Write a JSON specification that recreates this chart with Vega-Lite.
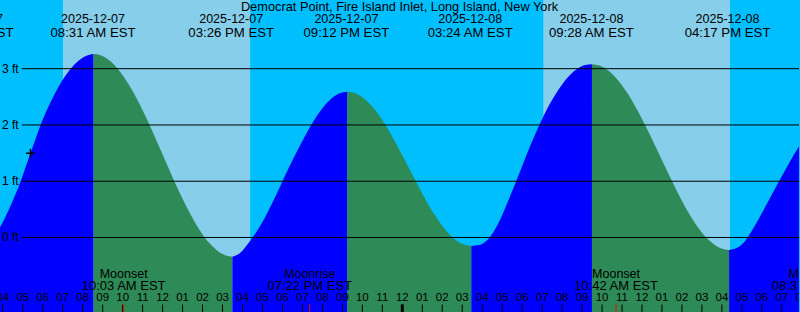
{
  "$schema": "https://vega.github.io/schema/vega-lite/v6.json",
  "width": 800,
  "height": 312,
  "autosize": {"type": "fit", "contains": "padding"},
  "padding": 0,
  "background": "#00BFFF",
  "config": {"view": {"stroke": null}, "text": {"font": "Liberation Sans", "color": "#000000"}},
  "datasets": {
    "bands": [
      {"s": 3.7, "e": 7.01, "k": "night"},
      {"s": 7.01, "e": 16.395, "k": "day"},
      {"s": 16.395, "e": 31.06, "k": "night"},
      {"s": 31.06, "e": 40.41, "k": "day"},
      {"s": 40.41, "e": 44.0, "k": "night"}
    ],
    "tide": [
      {"t": 3.36, "h": -0.09, "seg": "A", "dir": "rise"},
      {"t": 3.86, "h": 0.18, "seg": "A", "dir": "rise"},
      {"t": 4.36, "h": 0.54, "seg": "A", "dir": "rise"},
      {"t": 4.86, "h": 0.97, "seg": "A", "dir": "rise"},
      {"t": 5.36, "h": 1.47, "seg": "A", "dir": "rise"},
      {"t": 5.86, "h": 1.97, "seg": "A", "dir": "rise"},
      {"t": 6.36, "h": 2.38, "seg": "A", "dir": "rise"},
      {"t": 6.86, "h": 2.72, "seg": "A", "dir": "rise"},
      {"t": 7.36, "h": 2.98, "seg": "A", "dir": "rise"},
      {"t": 7.76, "h": 3.13, "seg": "A", "dir": "rise"},
      {"t": 8.16, "h": 3.225, "seg": "A", "dir": "rise"},
      {"t": 8.545, "h": 3.26, "seg": "A", "dir": "rise"},
      {"t": 8.545, "h": 3.26, "seg": "B", "dir": "fall"},
      {"t": 8.86, "h": 3.242, "seg": "B", "dir": "fall"},
      {"t": 9.36, "h": 3.139, "seg": "B", "dir": "fall"},
      {"t": 9.86, "h": 2.951, "seg": "B", "dir": "fall"},
      {"t": 10.36, "h": 2.687, "seg": "B", "dir": "fall"},
      {"t": 10.86, "h": 2.362, "seg": "B", "dir": "fall"},
      {"t": 11.36, "h": 1.99, "seg": "B", "dir": "fall"},
      {"t": 11.86, "h": 1.59, "seg": "B", "dir": "fall"},
      {"t": 12.36, "h": 1.184, "seg": "B", "dir": "fall"},
      {"t": 12.86, "h": 0.793, "seg": "B", "dir": "fall"},
      {"t": 13.36, "h": 0.435, "seg": "B", "dir": "fall"},
      {"t": 13.86, "h": 0.129, "seg": "B", "dir": "fall"},
      {"t": 14.36, "h": -0.108, "seg": "B", "dir": "fall"},
      {"t": 14.76, "h": -0.241, "seg": "B", "dir": "fall"},
      {"t": 15.16, "h": -0.319, "seg": "B", "dir": "fall"},
      {"t": 15.495, "h": -0.34, "seg": "B", "dir": "fall"},
      {"t": 15.495, "h": -0.34, "seg": "C", "dir": "rise"},
      {"t": 15.86, "h": -0.28, "seg": "C", "dir": "rise"},
      {"t": 16.36, "h": -0.07, "seg": "C", "dir": "rise"},
      {"t": 16.86, "h": 0.19, "seg": "C", "dir": "rise"},
      {"t": 17.36, "h": 0.52, "seg": "C", "dir": "rise"},
      {"t": 17.86, "h": 0.89, "seg": "C", "dir": "rise"},
      {"t": 18.36, "h": 1.27, "seg": "C", "dir": "rise"},
      {"t": 18.86, "h": 1.62, "seg": "C", "dir": "rise"},
      {"t": 19.36, "h": 1.95, "seg": "C", "dir": "rise"},
      {"t": 19.86, "h": 2.23, "seg": "C", "dir": "rise"},
      {"t": 20.36, "h": 2.44, "seg": "C", "dir": "rise"},
      {"t": 20.86, "h": 2.563, "seg": "C", "dir": "rise"},
      {"t": 21.245, "h": 2.59, "seg": "C", "dir": "rise"},
      {"t": 21.245, "h": 2.59, "seg": "D", "dir": "fall"},
      {"t": 21.61, "h": 2.567, "seg": "D", "dir": "fall"},
      {"t": 22.11, "h": 2.461, "seg": "D", "dir": "fall"},
      {"t": 22.61, "h": 2.277, "seg": "D", "dir": "fall"},
      {"t": 23.11, "h": 2.026, "seg": "D", "dir": "fall"},
      {"t": 23.61, "h": 1.721, "seg": "D", "dir": "fall"},
      {"t": 24.11, "h": 1.387, "seg": "D", "dir": "fall"},
      {"t": 24.61, "h": 1.042, "seg": "D", "dir": "fall"},
      {"t": 25.11, "h": 0.708, "seg": "D", "dir": "fall"},
      {"t": 25.61, "h": 0.407, "seg": "D", "dir": "fall"},
      {"t": 26.11, "h": 0.156, "seg": "D", "dir": "fall"},
      {"t": 26.61, "h": -0.026, "seg": "D", "dir": "fall"},
      {"t": 27.06, "h": -0.122, "seg": "D", "dir": "fall"},
      {"t": 27.46, "h": -0.15, "seg": "D", "dir": "fall"},
      {"t": 27.46, "h": -0.15, "seg": "E", "dir": "rise"},
      {"t": 27.86, "h": -0.135, "seg": "E", "dir": "rise"},
      {"t": 28.36, "h": -0.006, "seg": "E", "dir": "rise"},
      {"t": 28.86, "h": 0.29, "seg": "E", "dir": "rise"},
      {"t": 29.36, "h": 0.7, "seg": "E", "dir": "rise"},
      {"t": 29.86, "h": 1.14, "seg": "E", "dir": "rise"},
      {"t": 30.36, "h": 1.59, "seg": "E", "dir": "rise"},
      {"t": 30.86, "h": 2.0, "seg": "E", "dir": "rise"},
      {"t": 31.36, "h": 2.36, "seg": "E", "dir": "rise"},
      {"t": 31.86, "h": 2.65, "seg": "E", "dir": "rise"},
      {"t": 32.36, "h": 2.875, "seg": "E", "dir": "rise"},
      {"t": 32.76, "h": 2.998, "seg": "E", "dir": "rise"},
      {"t": 33.16, "h": 3.065, "seg": "E", "dir": "rise"},
      {"t": 33.495, "h": 3.08, "seg": "E", "dir": "rise"},
      {"t": 33.495, "h": 3.08, "seg": "F", "dir": "fall"},
      {"t": 33.86, "h": 3.057, "seg": "F", "dir": "fall"},
      {"t": 34.36, "h": 2.953, "seg": "F", "dir": "fall"},
      {"t": 34.86, "h": 2.768, "seg": "F", "dir": "fall"},
      {"t": 35.36, "h": 2.515, "seg": "F", "dir": "fall"},
      {"t": 35.86, "h": 2.204, "seg": "F", "dir": "fall"},
      {"t": 36.36, "h": 1.854, "seg": "F", "dir": "fall"},
      {"t": 36.86, "h": 1.481, "seg": "F", "dir": "fall"},
      {"t": 37.36, "h": 1.106, "seg": "F", "dir": "fall"},
      {"t": 37.86, "h": 0.747, "seg": "F", "dir": "fall"},
      {"t": 38.36, "h": 0.423, "seg": "F", "dir": "fall"},
      {"t": 38.86, "h": 0.153, "seg": "F", "dir": "fall"},
      {"t": 39.36, "h": -0.05, "seg": "F", "dir": "fall"},
      {"t": 39.76, "h": -0.158, "seg": "F", "dir": "fall"},
      {"t": 40.11, "h": -0.209, "seg": "F", "dir": "fall"},
      {"t": 40.36, "h": -0.22, "seg": "F", "dir": "fall"},
      {"t": 40.36, "h": -0.22, "seg": "G", "dir": "rise"},
      {"t": 40.61, "h": -0.205, "seg": "G", "dir": "rise"},
      {"t": 40.86, "h": -0.165, "seg": "G", "dir": "rise"},
      {"t": 41.11, "h": -0.085, "seg": "G", "dir": "rise"},
      {"t": 41.36, "h": 0.04, "seg": "G", "dir": "rise"},
      {"t": 41.86, "h": 0.34, "seg": "G", "dir": "rise"},
      {"t": 42.36, "h": 0.67, "seg": "G", "dir": "rise"},
      {"t": 42.86, "h": 1.0, "seg": "G", "dir": "rise"},
      {"t": 43.36, "h": 1.32, "seg": "G", "dir": "rise"},
      {"t": 43.86, "h": 1.62, "seg": "G", "dir": "rise"},
      {"t": 44.11, "h": 1.77, "seg": "G", "dir": "rise"}
    ],
    "grid": [
      {"v": 0, "lab": "0 ft"},
      {"v": 1, "lab": "1 ft"},
      {"v": 2, "lab": "2 ft"},
      {"v": 3, "lab": "3 ft"}
    ],
    "hours": [
      {"t": 4, "lab": "04"}, {"t": 5, "lab": "05"}, {"t": 6, "lab": "06"}, {"t": 7, "lab": "07"},
      {"t": 8, "lab": "08"}, {"t": 9, "lab": "09"}, {"t": 10, "lab": "10"}, {"t": 11, "lab": "11"},
      {"t": 12, "lab": "12"}, {"t": 13, "lab": "01"}, {"t": 14, "lab": "02"}, {"t": 15, "lab": "03"},
      {"t": 16, "lab": "04"}, {"t": 17, "lab": "05"}, {"t": 18, "lab": "06"}, {"t": 19, "lab": "07"},
      {"t": 20, "lab": "08"}, {"t": 21, "lab": "09"}, {"t": 22, "lab": "10"}, {"t": 23, "lab": "11"},
      {"t": 24, "lab": "12"}, {"t": 25, "lab": "01"}, {"t": 26, "lab": "02"}, {"t": 27, "lab": "03"},
      {"t": 28, "lab": "04"}, {"t": 29, "lab": "05"}, {"t": 30, "lab": "06"}, {"t": 31, "lab": "07"},
      {"t": 32, "lab": "08"}, {"t": 33, "lab": "09"}, {"t": 34, "lab": "10"}, {"t": 35, "lab": "11"},
      {"t": 36, "lab": "12"}, {"t": 37, "lab": "01"}, {"t": 38, "lab": "02"}, {"t": 39, "lab": "03"},
      {"t": 40, "lab": "04"}, {"t": 41, "lab": "05"}, {"t": 42, "lab": "06"}, {"t": 43, "lab": "07"},
      {"t": 44, "lab": "08"}
    ],
    "moon": [
      {"t": 10.05, "name": "Moonset", "time": "10:03 AM EST"},
      {"t": 19.367, "name": "Moonrise", "time": "07:22 PM EST"},
      {"t": 34.7, "name": "Moonset", "time": "10:42 AM EST"},
      {"t": 44.617, "name": "Moonrise", "time": "08:37 PM EST"}
    ],
    "events": [
      {"t": 2.41, "date": "2025-12-07", "time": "02:25 AM EST"},
      {"t": 8.517, "date": "2025-12-07", "time": "08:31 AM EST"},
      {"t": 15.433, "date": "2025-12-07", "time": "03:26 PM EST"},
      {"t": 21.2, "date": "2025-12-07", "time": "09:12 PM EST"},
      {"t": 27.4, "date": "2025-12-08", "time": "03:24 AM EST"},
      {"t": 33.467, "date": "2025-12-08", "time": "09:28 AM EST"},
      {"t": 40.283, "date": "2025-12-08", "time": "04:17 PM EST"}
    ],
    "now": [{"t": 5.385, "h": 1.496}],
    "title": [{"t": 23.86, "h": 4.03, "text": "Democrat Point, Fire Island Inlet, Long Island, New York"}]
  },
  "resolve": {"scale": {"color": "independent"}},
  "layer": [
    {
      "data": {"name": "bands"},
      "mark": {"type": "rect", "clip": true},
      "encoding": {
        "x": {"field": "s", "type": "quantitative", "scale": {"domain": [3.86, 43.86], "nice": false, "zero": false}, "axis": null},
        "x2": {"field": "e"},
        "y": {"datum": 4.2207, "type": "quantitative", "scale": {"domain": [-1.324, 4.2207], "nice": false, "zero": false}, "axis": null},
        "y2": {"datum": -1.324},
        "color": {"field": "k", "type": "nominal", "scale": {"domain": ["night", "day"], "range": ["#00BFFF", "#87CEEB"]}, "legend": null}
      }
    },
    {
      "data": {"name": "tide"},
      "mark": {"type": "area", "interpolate": "monotone", "clip": true},
      "encoding": {
        "x": {"field": "t", "type": "quantitative"},
        "y": {"field": "h", "type": "quantitative", "stack": null},
        "y2": {"datum": -1.5},
        "color": {"field": "dir", "type": "nominal", "scale": {"domain": ["rise", "fall"], "range": ["#0000FF", "#2E8B57"]}, "legend": null},
        "detail": {"field": "seg"}
      }
    },
    {
      "data": {"name": "grid"},
      "mark": {"type": "rule", "color": "#000000", "strokeWidth": 1},
      "encoding": {
        "x": {"datum": 4.95, "type": "quantitative"},
        "x2": {"datum": 43.86},
        "y": {"field": "v", "type": "quantitative"}
      }
    },
    {
      "data": {"name": "grid"},
      "mark": {"type": "text", "align": "left", "baseline": "middle", "dx": 2, "fontSize": 12},
      "encoding": {
        "x": {"datum": 3.86, "type": "quantitative"},
        "y": {"field": "v", "type": "quantitative"},
        "text": {"field": "lab"}
      }
    },
    {
      "data": {"name": "hours"},
      "mark": {"type": "rule", "color": "#000000", "strokeWidth": 1, "clip": true},
      "encoding": {
        "x": {"field": "t", "type": "quantitative"},
        "y": {"datum": -1.19, "type": "quantitative"},
        "y2": {"datum": -1.4}
      }
    },
    {
      "data": {"name": "hours"},
      "transform": [{"filter": "datum.t == 24"}],
      "mark": {"type": "rule", "color": "#000000", "strokeWidth": 3, "clip": true},
      "encoding": {
        "x": {"field": "t", "type": "quantitative"},
        "y": {"datum": -1.19, "type": "quantitative"},
        "y2": {"datum": -1.4}
      }
    },
    {
      "data": {"name": "moon"},
      "mark": {"type": "rule", "color": "#FF0000", "strokeWidth": 1, "clip": true},
      "encoding": {
        "x": {"field": "t", "type": "quantitative"},
        "y": {"datum": -1.19, "type": "quantitative"},
        "y2": {"datum": -1.4}
      }
    },
    {
      "data": {"name": "hours"},
      "mark": {"type": "text", "align": "center", "baseline": "alphabetic", "fontSize": 11.5, "clip": true},
      "encoding": {
        "x": {"field": "t", "type": "quantitative"},
        "y": {"datum": -1.133, "type": "quantitative"},
        "text": {"field": "lab"}
      }
    },
    {
      "data": {"name": "moon"},
      "mark": {"type": "text", "align": "center", "baseline": "alphabetic", "fontSize": 12.5, "clip": true},
      "encoding": {
        "x": {"field": "t", "type": "quantitative"},
        "y": {"datum": -0.714, "type": "quantitative"},
        "text": {"field": "name"}
      }
    },
    {
      "data": {"name": "moon"},
      "mark": {"type": "text", "align": "center", "baseline": "alphabetic", "fontSize": 13, "clip": true},
      "encoding": {
        "x": {"field": "t", "type": "quantitative"},
        "y": {"datum": -0.927, "type": "quantitative"},
        "text": {"field": "time"}
      }
    },
    {
      "data": {"name": "events"},
      "mark": {"type": "text", "align": "center", "baseline": "alphabetic", "fontSize": 12.5, "clip": true},
      "encoding": {
        "x": {"field": "t", "type": "quantitative"},
        "y": {"datum": 3.815, "type": "quantitative"},
        "text": {"field": "date"}
      }
    },
    {
      "data": {"name": "events"},
      "mark": {"type": "text", "align": "center", "baseline": "alphabetic", "fontSize": 13.2, "clip": true},
      "encoding": {
        "x": {"field": "t", "type": "quantitative"},
        "y": {"datum": 3.567, "type": "quantitative"},
        "text": {"field": "time"}
      }
    },
    {
      "data": {"name": "title"},
      "mark": {"type": "text", "align": "center", "baseline": "alphabetic", "fontSize": 12.8, "clip": true},
      "encoding": {
        "x": {"field": "t", "type": "quantitative"},
        "y": {"field": "h", "type": "quantitative"},
        "text": {"field": "text"}
      }
    },
    {
      "data": {"name": "now"},
      "mark": {"type": "point", "shape": "M -1 0 L 1 0 M 0 -1 L 0 1", "filled": false, "stroke": "#000000", "strokeWidth": 1.5, "size": 81, "opacity": 1},
      "encoding": {
        "x": {"field": "t", "type": "quantitative"},
        "y": {"field": "h", "type": "quantitative"}
      }
    }
  ]
}
